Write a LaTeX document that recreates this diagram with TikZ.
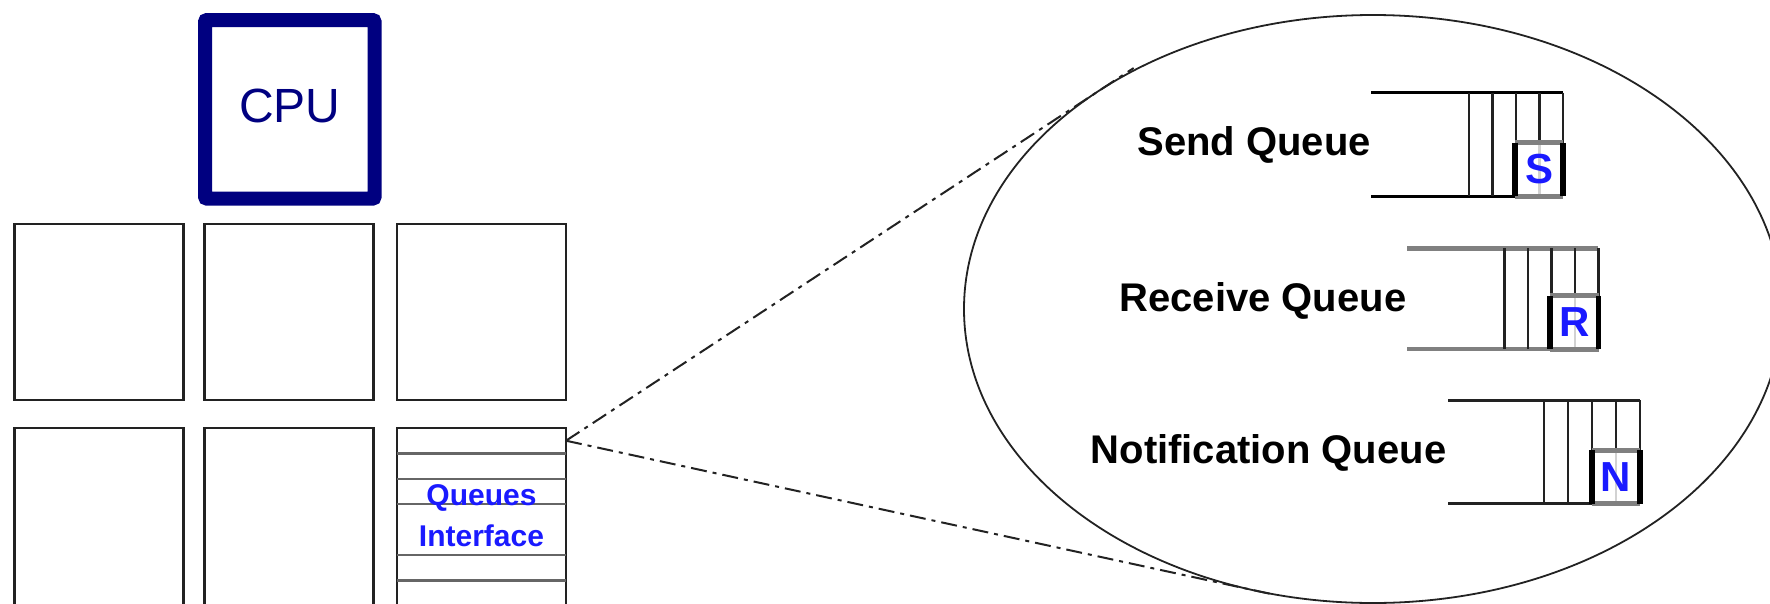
\documentclass[tikz,border=0pt]{standalone}
\usepackage{fontspec}
\setmainfont{Liberation Sans}
\usetikzlibrary{shapes.geometric,calc}
\definecolor{cpublue}{HTML}{000080}
\definecolor{qblue}{HTML}{1A1AFF}
\definecolor{ink}{HTML}{222222}
\definecolor{railgray}{HTML}{808080}
\definecolor{slatgray}{HTML}{666666}

% one queue: rails, cell dividers and the tagged head slot
% #1 slot name, #2 open end x, #3 closed end x, #4 top y, #5 bottom y,
% #6 cell width, #7 rail style, #8 slot letter
\newcommand{\slotqueue}[8]{%
  \draw[#7] (#2,#4) -- (#3,#4) (#2,#5) -- (#3,#5);
  \foreach \k in {0,...,4}
    \draw[divider] ({#3-#6*\k},#4) -- ({#3-#6*\k},#5);
  \node[slot] (#1) at ({#3-24},{#5-26.5}) {#8};
  \draw[slotcap] (#1.north west) -- (#1.north east) (#1.south west) -- (#1.south east);
  \draw[slotside] (#1.north west) -- (#1.south west) (#1.north east) -- (#1.south east);
}

\begin{document}
\begin{tikzpicture}[x=1pt,y=-1pt,
  cell/.style={draw=ink, line width=2.4pt, minimum width=169pt,
    minimum height=176pt, inner sep=0pt, outer sep=0pt},
  tallcell/.style={cell, minimum height=200pt},
  cpu/.style={draw=cpublue, line width=14pt, rounded corners=2pt,
    minimum width=169.5pt, minimum height=178.6pt, inner sep=0pt,
    text=cpublue, text depth=7pt, font=\fontsize{48}{56}\selectfont},
  slat/.style={draw=slatgray, line width=2.4pt},
  iface/.style={anchor=base, inner sep=0pt, text=qblue,
    font=\bfseries\fontsize{30}{36}\selectfont},
  lens/.style={draw=ink, line width=2pt,
    dash pattern=on 16pt off 6pt on 4pt off 6pt},
  zoomring/.style={ellipse, draw=ink, line width=1.8pt, inner sep=0pt,
    outer sep=0pt, minimum width=818pt, minimum height=588pt},
  qlabel/.style={anchor=base east, inner sep=0pt,
    font=\bfseries\fontsize{40}{48}\selectfont},
  divider/.style={draw=ink, line width=2.4pt},
  sendrail/.style={draw=black, line width=3pt},
  recvrail/.style={draw=railgray, line width=4.5pt},
  notirail/.style={draw=ink, line width=3pt},
  slot/.style={minimum width=48pt, minimum height=53pt, inner sep=0pt,
    fill=white, fill opacity=0.8, text opacity=1, text=qblue,
    font=\bfseries\fontsize{42}{48}\selectfont},
  slotcap/.style={draw=railgray, line width=5pt},
  slotside/.style={draw=black, line width=5.5pt},
]
\useasboundingbox (0,0) rectangle (1770,603);
\clip (0,0) rectangle (1770,603);

% processor
\node[cpu] (cpu) at (289.8,109.3) {CPU};

% tile grid
\node[cell] (t11) at (98.8,312) {};
\node[cell] (t12) at (289,312) {};
\node[cell] (t13) at (481.5,312) {};
\node[tallcell] (t21) at (98.8,528) {};
\node[tallcell] (t22) at (289,528) {};
\node[tallcell] (qi) at (481.5,528) {};

% queue interface slats
\foreach \k in {1,2,3,5,6,7}
  \draw[slat] ([yshift={-25.4pt*\k}]qi.north west) -- ([yshift={-25.4pt*\k}]qi.north east);
\draw[ink, line width=2.4pt] (qi.north west) -- (qi.north east);
\node[iface] (qtop) at (481.5,505.5) {Queues};
\node[iface] (qbot) at (481.5,546.7) {Interface};

% magnified view
\node[zoomring] (zoom) at (1373,309) {};
\coordinate (tap) at ([yshift=-12.7pt]qi.north east);
\draw[lens] (tap) -- ($(tap)!1.06!(zoom.141.6)$);
\draw[lens] (tap) -- ($(tap)!1.03!(zoom.247.2)$);

% the three queues
\slotqueue{sslot}{1371}{1563}{92.7}{196}{23.5}{sendrail}{S}
\slotqueue{rslot}{1407}{1598.4}{248.3}{349}{23.5}{recvrail}{R}
\slotqueue{nslot}{1448}{1640}{400}{503.3}{24}{notirail}{N}

\node[qlabel] (sendlbl) at (1371,155) {Send Queue};
\node[qlabel] (recvlbl) at (1406.5,311.7) {Receive Queue};
\node[qlabel] (notilbl) at (1446.5,463) {Notification Queue};
\end{tikzpicture}
\end{document}
